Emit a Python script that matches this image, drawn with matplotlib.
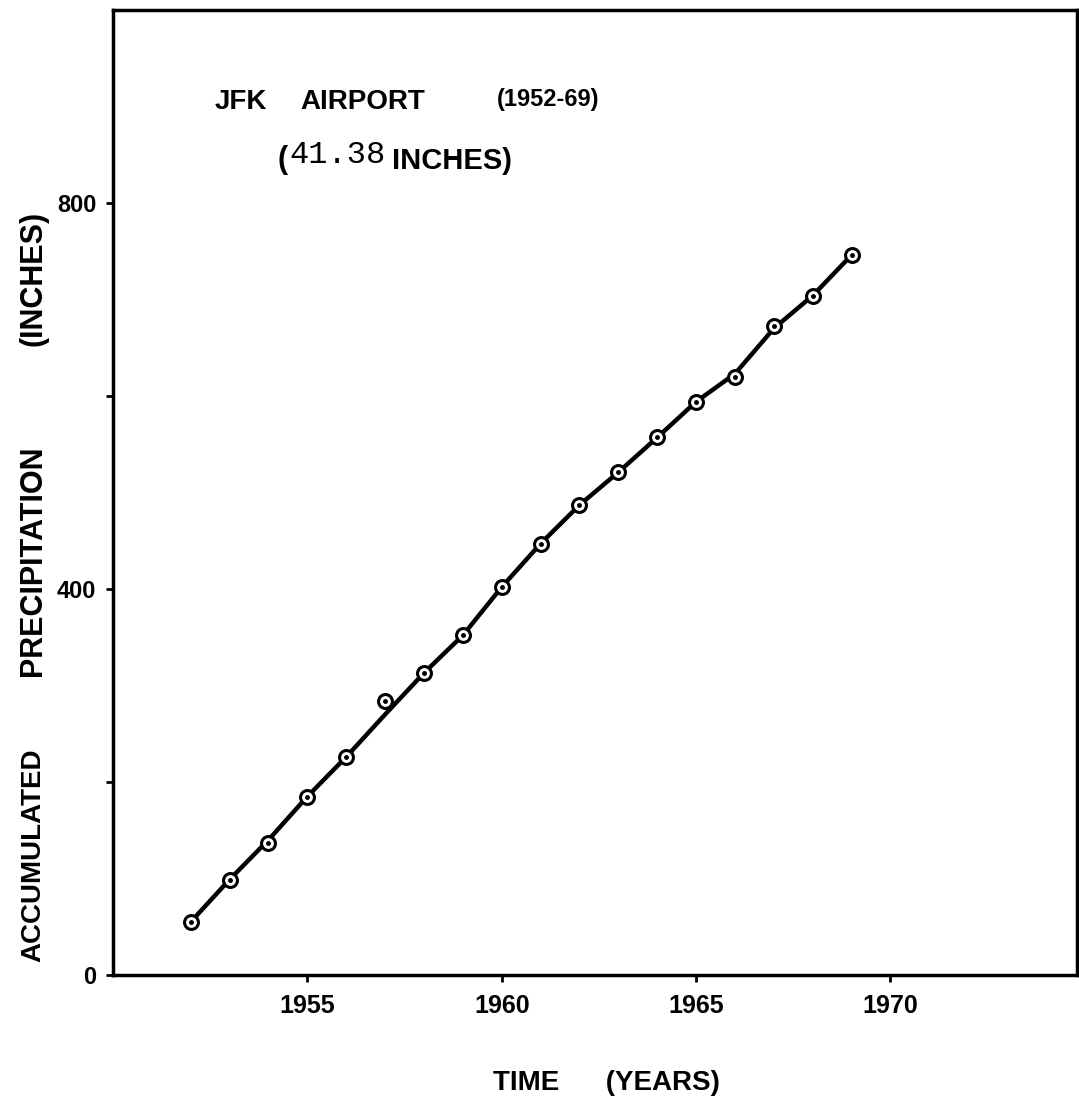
import matplotlib
matplotlib.use("Agg")
import matplotlib.pyplot as plt

# dane
years = [1952, 1953, 1954, 1955, 1956, 1957, 1958, 1959, 1960,
         1961, 1962, 1963, 1964, 1965, 1966, 1967, 1968, 1969]
accum = [55, 99, 137, 185, 226, 284, 313, 352, 402,
         447, 487, 521, 557, 594, 620, 672, 704, 746]
# linia wygładzona (punkt 1957 leży nad linią)
line_vals = [55, 99, 140, 185, 226, 270, 313, 352, 402,
             447, 487, 521, 557, 594, 623, 670, 704, 746]

x_ticks = [1955, 1960, 1965, 1970]
y_ticks = [0, 200, 400, 600, 800]
y_labels = ["0", "", "400", "", "800"]

FONT = ["Liberation Sans", "DejaVu Sans"]
plt.rcParams["font.family"] = FONT
plt.rcParams["font.weight"] = "bold"

fig = plt.figure(figsize=(10.79, 11.02), dpi=100)
ax = fig.add_axes([0.1047, 0.1152, 0.8935, 0.8758])

ax.plot(years, line_vals, color="black", lw=3.2, zorder=2)
ax.plot(years, accum, linestyle="none", marker="o", ms=10, mfc="white",
        mec="black", mew=2.2, zorder=3)
ax.plot(years, accum, linestyle="none", marker="o", ms=2.5, color="black", zorder=4)

ax.set_xlim(1950, 1974.8)
ax.set_ylim(0, 1000)
ax.set_xticks(x_ticks)
ax.set_yticks(y_ticks)
ax.set_yticklabels(y_labels)
ax.tick_params(direction="out", length=5, width=2)
ax.tick_params(axis="x", labelsize=18, pad=9)
ax.tick_params(axis="y", labelsize=17, pad=7)
for s in ax.spines.values():
    s.set_linewidth(2.5)

# podpisy osi w stałych miejscach figury
fig.text(0.562, 0.017, "TIME      (YEARS)", fontsize=20, fontweight="bold",
         ha="center", va="center")
# etykieta osi Y jako trzy słowa (szerokie odstępy jak w oryginale)
for word, ypix, fs in [("ACCUMULATED", 855, 20), ("PRECIPITATION", 561, 22),
                       ("(INCHES)", 278, 22)]:
    fig.text(0.031, 1 - ypix / 1102, word, fontsize=fs, fontweight="bold",
             rotation=90, ha="center", va="center")

ax.text(0.105, 0.905, "JFK", transform=ax.transAxes,
        fontsize=20, fontweight="bold", va="center")
ax.text(0.194, 0.905, "AIRPORT", transform=ax.transAxes,
        fontsize=20, fontweight="bold", va="center")
ax.text(0.398, 0.907, "(1952-69)", transform=ax.transAxes,
        fontsize=17, fontweight="bold", va="center")
ax.text(0.171, 0.845, "(", transform=ax.transAxes, fontsize=22,
        fontweight="bold", va="center")
ax.text(0.183, 0.850, "41.38", transform=ax.transAxes, fontsize=23,
        family=["Liberation Mono", "DejaVu Sans Mono"], fontweight="normal", va="center")
ax.text(0.289, 0.843, "INCHES)", transform=ax.transAxes, fontsize=21,
        fontweight="bold", va="center")

fig.savefig("out.png", dpi=100, facecolor="white")
